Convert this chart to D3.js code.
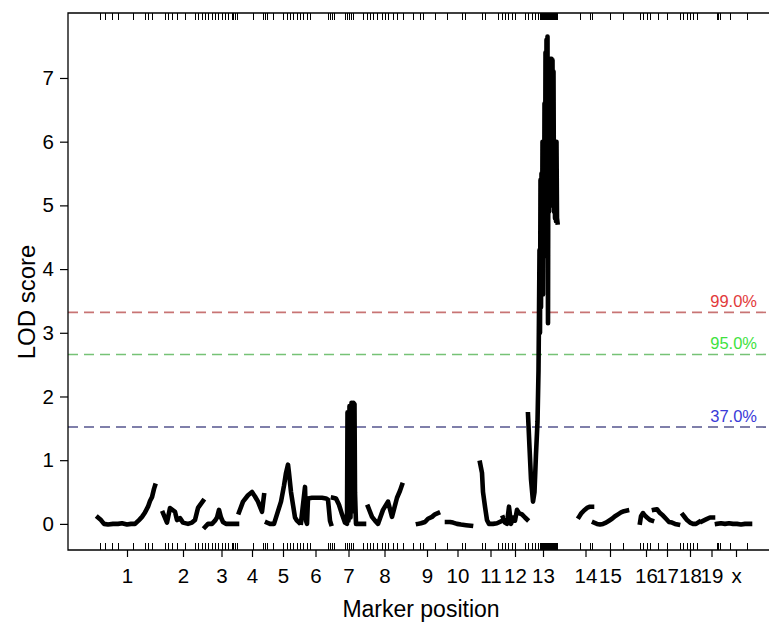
<!DOCTYPE html>
<html><head><meta charset="utf-8">
<script src="https://cdn.jsdelivr.net/npm/d3@7"></script>
<style>html,body{margin:0;padding:0;background:#fff;}svg{display:block;font-family:"Liberation Sans",Arial,Helvetica,sans-serif;}</style>
</head><body>
<script>
// ---- DATA ----
const chromNames   = ["1","2","3","4","5","6","7","8","9","10","11","12","13","14","15","16","17","18","19","x"];
const chromStarts  = [30,94,137,171,198,233,263,299,348,377,411,435,460,511,525,572,586,614,634,648];
const chromLengths = [58,42,33,26,34,29,35,35,22,25,23,24,30,13,34,12,26,16,19,40];

// LOD profiles per chromosome: [position within chromosome, LOD]
const lod1  = [[0,0.1],[3,0.06],[6,0.0],[10,-0.01],[15,0.0],[20,0.0],[24,0.01],[29,-0.01],[33,0.0],[37,0.0],[41,0.06],[44,0.11],[47,0.18],[50,0.27],[52,0.36],[54,0.42],[56,0.55],[57,0.6]];
const lod2  = [[1,0.17],[5,0.02],[8,0.25],[13,0.19],[15,0.06],[18,0.09],[21,0.02],[26,0.0],[30,0.02],[33,0.06],[36,0.25],[41,0.36]];
const lod3  = [[0,-0.05],[3,0.0],[7,0.0],[10,0.05],[12,0.1],[14,0.22],[16,0.1],[18,0.03],[21,0.0],[25,0.0],[29,0.0],[32,0.0]];
const lod4  = [[0,0.18],[4,0.35],[9,0.45],[13,0.5],[16,0.43],[19,0.35],[23,0.19],[25,0.45]];
const lod5  = [[1,0.02],[4,0.0],[8,0.0],[12,0.2],[15,0.35],[18,0.6],[20,0.8],[22,0.93],[23,0.8],[25,0.5],[27,0.3],[29,0.1],[31,0.05],[33,0.02]];
const lod6  = [[0,0.02],[2,0.3],[4,0.58],[5,0.05],[6,0.0],[7,0.4],[11,0.41],[16,0.41],[21,0.41],[25,0.4],[27,0.38],[29,0.05],[30,0.0]];
const lod7  = [[2,0.41],[5,0.4],[8,0.3],[11,0.15],[14,0.02],[16,0.0],[16.5,1.75],[17.5,0.05],[18.5,1.85],[19.5,0.1],[20.5,1.9],[21.5,0.2],[22.5,1.9],[23.5,1.88],[24,0.49],[25,0.0],[29,0.0],[33,0.0]];
const lod8  = [[1,0.27],[5,0.11],[8,0.05],[11,0.0],[16,0.22],[21,0.35],[25,0.11],[30,0.41],[33,0.52],[35,0.61]];
const lod9  = [[2,0.0],[5,0.01],[9,0.03],[12,0.08],[16,0.11],[19,0.15],[22,0.17]];
const lod10 = [[2,0.03],[5,0.03],[8,0.02],[12,0.0],[16,-0.01],[21,-0.02],[26,-0.03]];
const lod11 = [[1,0.96],[3,0.8],[4,0.5],[6,0.27],[8,0.06],[10,0.0],[14,0.0],[18,0.01],[22,0.04]];
const lod12 = [[0,0.1],[2,0.02],[4,0.0],[6,0.27],[8,0.0],[10,0.1],[12,0.05],[14,0.22],[16,0.17],[19,0.15],[22,0.1],[24,0.07]];
const lod13 = [[0,1.72],[1.5,1.2],[3,0.7],[5,0.35],[6.5,0.5],[8,1.1],[9.5,1.6],[10.5,2.4],[11,3.3],[11.5,4.3],[12,3.0],[12.5,5.4],[13,3.4],[13.5,5.5],[14,4.0],[14.5,6.0],[15,3.6],[15.5,5.9],[16,4.2],[16.5,6.6],[17,4.6],[17.5,7.4],[18,5.0],[18.5,7.6],[19,5.2],[19.5,7.65],[20,3.15],[20.5,7.0],[21,4.9],[21.5,7.3],[22,5.3],[22.5,7.3],[23,5.0],[23.5,7.3],[24,5.2],[24.5,7.28],[25,5.0],[25.5,7.1],[26,4.9],[26.5,6.0],[27,4.8],[27.5,5.95],[28,4.75],[28.5,6.0],[29,4.8],[29.5,4.73]];
const lod14 = [[0,0.11],[2,0.16],[5,0.21],[8,0.25],[11,0.27],[13,0.27]];
const lod15 = [[1,0.02],[4,0.0],[7,-0.01],[10,0.0],[13,0.02],[16,0.05],[19,0.08],[22,0.12],[25,0.15],[28,0.18],[31,0.2],[34,0.21]];
const lod16 = [[0,0.02],[1,0.12],[3,0.17],[5,0.13],[7,0.1],[10,0.06],[12,0.05]];
const lod17 = [[0,0.22],[3,0.23],[6,0.17],[9,0.13],[12,0.08],[15,0.03],[18,0.02],[21,0.0],[24,-0.01]];
const lod18 = [[1,0.14],[3,0.1],[5,0.06],[8,0.02],[11,0.0],[14,0.0],[17,0.03]];
const lod19 = [[0,0.04],[4,0.07],[8,0.1],[11,0.1]];
const lodX  = [[1,0.0],[5,0.01],[9,0.0],[13,0.01],[17,0.0],[21,0.0],[25,-0.01],[29,0.0],[34,0.0]];
const lodByChrom = [lod1,lod2,lod3,lod4,lod5,lod6,lod7,lod8,lod9,lod10,lod11,lod12,lod13,lod14,lod15,lod16,lod17,lod18,lod19,lodX];

// genotyped marker positions (genome-wide)
const markerPositions = [32,37,44,50,65,77,80,84,97,100,104,109,117,127,130,134,137,140,144,147,150,154,157,160,164,165,167,169,185,195,197,199,205,215,219,222,225,229,232,235,239,242,260,262,264,266,277,279,281,283,285,295,299,302,305,309,314,317,320,325,329,335,345,352,355,367,379,394,397,414,417,430,434,437,440,444,447,457,460,464,467,470,472,473,474,475,476,477,478,479,480,481,482,483,484,485,486,487,488,489,512,522,524,542,555,572,575,579,582,590,599,612,615,619,622,625,629,649,650,652,662,679];

const yTicks = [0,1,2,3,4,5,6,7];
const thresholdValues = [3.32, 2.66, 1.52];
const thresholdLabels = ["99.0%","95.0%","37.0%"];
const thresholdLine = ["#c87474","#76c276","#55558e"];
const thresholdText = ["#e23a3a","#3ee23e","#3a3ad8"];

// ---- CHART ----
const W = 769, H = 622;
const L = 68, R = 769, T = 13, B = 550;
const svg = d3.select("body").append("svg").attr("width", W).attr("height", H);
const x = d3.scaleLinear().domain([0, 701]).range([L, R]);
const y = d3.scaleLinear().domain([-0.41, 8.02]).range([B, T]);

// thresholds
thresholdValues.forEach((v, i) => {
  svg.append("line").attr("x1", L).attr("x2", R).attr("y1", y(v)).attr("y2", y(v))
    .attr("stroke", thresholdLine[i]).attr("stroke-width", 1.6).attr("stroke-dasharray", "10,6");
  svg.append("text").attr("x", 757).attr("y", y(v) - 5).attr("text-anchor", "end")
    .attr("font-size", 16.5).attr("fill", thresholdText[i]).text(thresholdLabels[i]);
});

// LOD curves
const line = d3.line().x(d => x(d[0])).y(d => y(d[1]));
lodByChrom.forEach((pts, i) => {
  const g = pts.map(p => [chromStarts[i] + p[0], p[1]]);
  svg.append("path").attr("d", line(g)).attr("fill", "none").attr("stroke", "#000")
    .attr("stroke-width", 4.6).attr("stroke-linejoin", "round").attr("stroke-linecap", "square");
});

// frame (top, left, bottom)
svg.append("path").attr("d", `M${R},${T}H${L}V${B}H${R}`).attr("fill", "none").attr("stroke", "#000").attr("stroke-width", 1.3);

// rugs
svg.append("g").attr("shape-rendering", "crispEdges").selectAll("line").data(markerPositions).join("line")
  .attr("x1", d => x(d)).attr("x2", d => x(d)).attr("y1", T).attr("y2", T + 7)
  .attr("stroke", "#000").attr("stroke-width", 1);
svg.append("g").attr("shape-rendering", "crispEdges").selectAll("line").data(markerPositions).join("line")
  .attr("x1", d => x(d)).attr("x2", d => x(d)).attr("y1", B).attr("y2", B - 7)
  .attr("stroke", "#000").attr("stroke-width", 1);

// y axis
const yAxis = d3.axisLeft(y).tickValues(yTicks).tickSize(8).tickPadding(6).tickFormat(d3.format("d"));
const ya = svg.append("g").attr("transform", `translate(${L},0)`).call(yAxis);
ya.select(".domain").remove();
ya.selectAll("text").attr("font-size", 20.5).attr("font-family", "Liberation Sans, Arial, sans-serif").attr("fill", "#000");
ya.selectAll("line").attr("stroke-width", 1.2);

// x axis: chromosome midpoints
const mids = chromStarts.map((s, i) => s + chromLengths[i] / 2);
const xAxis = d3.axisBottom(x).tickValues(mids).tickSize(7).tickPadding(11).tickFormat((d, i) => chromNames[i]);
const xa = svg.append("g").attr("transform", `translate(0,${B})`).call(xAxis);
xa.select(".domain").remove();
xa.selectAll("text").attr("font-size", 20.5).attr("font-family", "Liberation Sans, Arial, sans-serif").attr("fill", "#000");
xa.selectAll("line").attr("stroke-width", 1.2);

// titles
svg.append("text").attr("x", 421).attr("y", 617).attr("text-anchor", "middle").attr("font-size", 23).text("Marker position");
svg.append("text").attr("transform", `translate(35,302) rotate(-90)`).attr("text-anchor", "middle").attr("font-size", 24).text("LOD score");
</script>
</body></html>
